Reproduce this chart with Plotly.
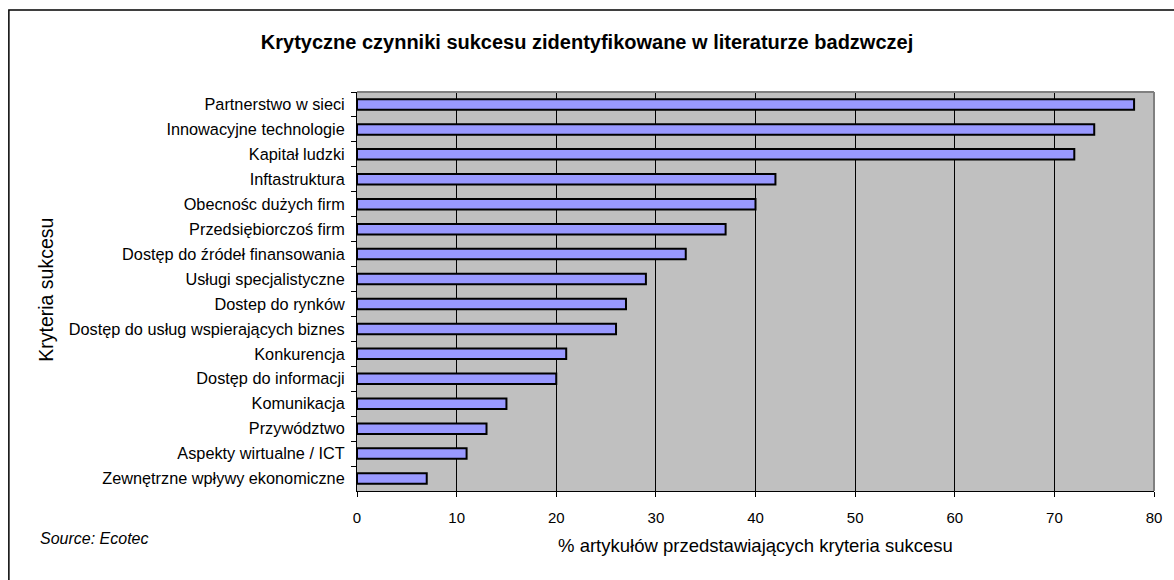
import plotly.graph_objects as go

categories = [
    "Partnerstwo w sieci",
    "Innowacyjne technologie",
    "Kapitał ludzki",
    "Inftastruktura",
    "Obecnośc dużych firm",
    "Przedsiębiorczoś firm",
    "Dostęp do źródeł finansowania",
    "Usługi specjalistyczne",
    "Dostep do rynków",
    "Dostęp do usług wspierających biznes",
    "Konkurencja",
    "Dostęp do informacji",
    "Komunikacja",
    "Przywództwo",
    "Aspekty wirtualne / ICT",
    "Zewnętrzne wpływy ekonomiczne",
]
values = [78, 74, 72, 42, 40, 37, 33, 29, 27, 26, 21, 20, 15, 13, 11, 7]
x_ticks = [0, 10, 20, 30, 40, 50, 60, 70, 80]

W, H = 1174, 580
L, R, T, B = 357, 1156, 92, 491
FONT = "Liberation Sans, Arial, sans-serif"

def px(x):
    return (x - L) / (R - L)

def py(y):
    return (B - y) / (B - T)

fig = go.Figure(go.Bar(
    y=categories, x=values, orientation="h",
    marker=dict(color="#9999FF", line=dict(color="black", width=2)),
    width=0.42,
))

fig.update_layout(
    width=W, height=H,
    margin=dict(l=L, r=W - R, t=T, b=H - B),
    paper_bgcolor="white", plot_bgcolor="#C0C0C0",
    font=dict(family=FONT, size=16, color="black"),
    showlegend=False,
    title=dict(text="<b>Krytyczne czynniki sukcesu zidentyfikowane w literaturze badzwczej</b>",
               x=587 / W, xanchor="center", y=1 - 42 / H, yanchor="middle",
               font=dict(size=20, family=FONT)),
    xaxis=dict(range=[0, 80], tickvals=x_ticks, showgrid=True, gridcolor="#000000", gridwidth=1,
               ticks="outside", ticklen=5, tickcolor="black", showline=True, linecolor="black",
               linewidth=1, zeroline=False, tickfont=dict(size=15), ticklabelstandoff=8,
               title=dict(text="% artykułów przedstawiających kryteria sukcesu", font=dict(size=18.5), standoff=14)),
    yaxis=dict(autorange="reversed", type="category", tickson="boundaries", ticks="outside",
               ticklen=5, tickcolor="black", showline=True, linecolor="black", linewidth=1,
               showgrid=False, tickfont=dict(size=16.3), ticklabelstandoff=8),
    bargap=0.58,
)

# plot-area right/top gray border
fig.add_shape(type="line", xref="paper", yref="paper", x0=0, x1=1, y0=1, y1=1,
              line=dict(color="#808080", width=2))
fig.add_shape(type="line", xref="paper", yref="paper", x0=1, x1=1, y0=0, y1=1,
              line=dict(color="#808080", width=2))
# outer chart border
fig.add_shape(type="rect", xref="paper", yref="paper",
              x0=px(8), x1=px(1185), y0=py(590), y1=py(10),
              line=dict(color="black", width=1.5), layer="below")

fig.add_annotation(text="Kryteria sukcesu", xref="paper", yref="paper",
                   x=px(45), y=py(290), xanchor="center", yanchor="middle", textangle=-90,
                   showarrow=False, font=dict(size=19.5, family=FONT))

fig.add_annotation(text="<i>Source: Ecotec</i>", xref="paper", yref="paper",
                   x=px(37), y=py(538), xanchor="left", yanchor="middle",
                   showarrow=False, font=dict(size=16, family=FONT))

fig.write_html("out.html", config={"displayModeBar": False},
               post_script="document.body.style.margin='0';document.body.style.overflow='hidden';")
